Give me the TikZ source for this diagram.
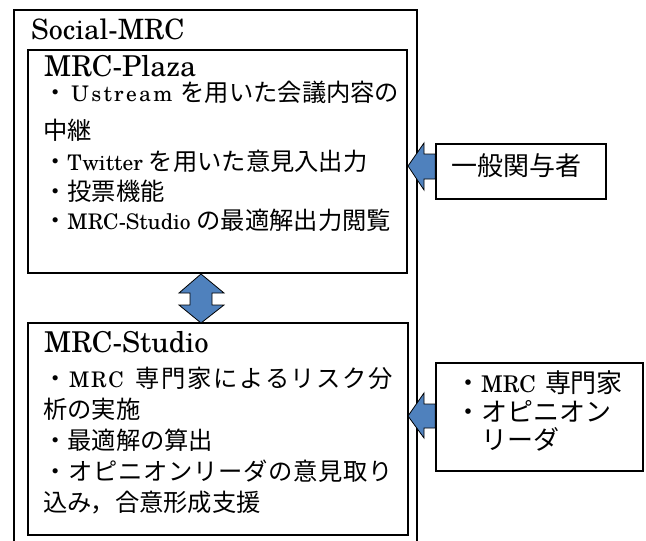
\documentclass[tikz,border=0pt]{standalone}
\usepackage{fontspec}
\setmainfont{TeX Gyre Schola}
\newfontfamily\jp[Scale=1.13]{Noto Sans CJK JP}
\usetikzlibrary{calc}
\ExplSyntaxOn
\NewDocumentCommand\spr{m}{\tl_map_inline:nn{#1}{##1\hfil}}
\ExplSyntaxOff
\newcommand\J[1]{{\jp #1}}
\definecolor{arrowblue}{HTML}{4F81BD}
\tikzset{
  frame/.style={draw=black, line width=1.3pt},
  boxnode/.style={frame, rectangle, inner sep=0pt},
  body/.style={anchor=base west, inner sep=0pt, font=\fontsize{21.5}{25}\selectfont},
  title/.style={anchor=base west, inner sep=0pt, font=\fontsize{28.7}{33}\selectfont},
  side/.style={anchor=base west, inner sep=0pt, font=\fontsize{23}{27}\selectfont},
  blockarrow/.style={fill=arrowblue, draw=black, line width=0.8pt, line join=miter}
}
\begin{document}
\begin{tikzpicture}[x=1pt,y=-1pt]
\useasboundingbox (0,0) rectangle (646,541);
% outer Social-MRC frame (cut by page bottom)
\draw[frame] (14,541) -- (14,10) -- (417,10) -- (417,541);
\node[title, font=\fontsize{28}{33}\selectfont] (soc) at (31,39) {Social-MRC};

% MRC-Plaza
\node[boxnode, minimum width=379pt, minimum height=223pt] (plaza) at (217.5,161.5) {};
\node[title] (plazat) at (44,76) {MRC-Plaza};
\node[body] (p1) at (43,101) {\hbox to 356pt{\J{・}\hskip 4pt\hbox to 101pt{\spr{Ustream}\unskip}\hfil\J{を用いた会議内容の}}};
\node[body] (p2) at (43,139) {\J{中継}};
\node[body] (p3) at (43,170) {\J{・}Twitter \J{を用いた意見入出力}};
\node[body] (p4) at (43,200) {\J{・投票機能}};
\node[body] (p5) at (43,229) {\J{・}MRC-Studio \J{の最適解出力閲覧}};

% MRC-Studio
\node[boxnode, minimum width=380pt, minimum height=212pt] (studio) at (218,429) {};
\node[title] (studiot) at (44,352) {MRC-Studio};
\node[body] (s1) at (43,387) {\hbox to 350pt{\J{・}\hfil\spr{MRC}\hskip 8pt\hfil\J{\spr{専門家によるリスク分}}\unskip}};
\node[body] (s2) at (43,418) {\J{析の実施}};
\node[body] (s3) at (43,449) {\J{・最適解の算出}};
\node[body] (s4) at (43,480) {\hbox to 350pt{\J{\spr{・オピニオンリーダの意見取り}}\unskip}};
\node[body] (s5) at (43,511) {\J{込み，合意形成支援}};

% double arrow between Plaza and Studio
\path[blockarrow] (201,274) -- (224,293) -- (212,293) -- (212,305) -- (224,305)
  -- (201,323) -- (179,305) -- (190,305) -- (190,293) -- (179,293) -- cycle;

% general stakeholders
\node[boxnode, minimum width=170pt, minimum height=55pt] (gen) at (521,171.5) {};
\node[side] (gent) at (451,175) {\J{一般関与者}};
\path[blockarrow] (408,166) -- (424,143) -- (424,154) -- (gen.west |- 0,154)
  -- (gen.west |- 0,179) -- (424,179) -- (424,190) -- cycle;

% experts
\node[boxnode, minimum width=207pt, minimum height=108pt] (exp) at (539.5,417) {};
\node[side] (e1) at (455,392) {\J{・}MRC\hskip 9pt\J{専門家}};
\node[side] (e2) at (455,421) {\J{・オピニオン}};
\node[side] (e3) at (481,449) {\J{リーダ}};
\path[blockarrow] (408,416) -- (424,393) -- (424,404) -- (exp.west |- 0,404)
  -- (exp.west |- 0,428) -- (424,428) -- (424,438) -- cycle;
\end{tikzpicture}
\end{document}
